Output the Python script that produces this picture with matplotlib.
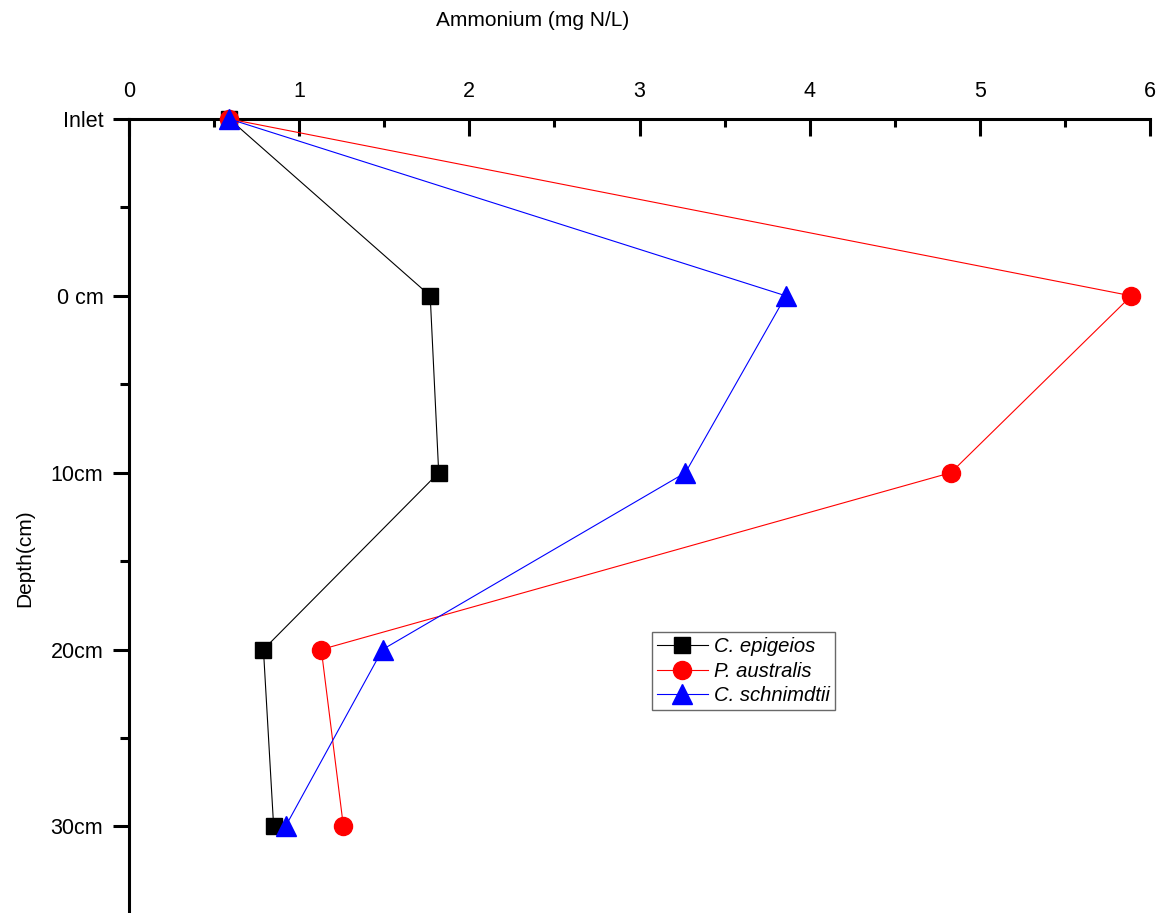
import matplotlib
matplotlib.use("Agg")
import matplotlib.pyplot as plt
from matplotlib.ticker import MultipleLocator

plt.rcParams['font.family'] = ['Liberation Sans', 'DejaVu Sans']

depths = ["Inlet", "0 cm", "10cm", "20cm", "30cm"]
c_epigeios = [0.59, 1.77, 1.82, 0.79, 0.85]
p_australis = [0.59, 5.89, 4.83, 1.13, 1.26]
c_schnimdtii = [0.59, 3.86, 3.27, 1.49, 0.92]

W, H = 1167, 913
fig = plt.figure(figsize=(W / 100, H / 100), dpi=100)
ax = fig.add_axes([129 / W, 0, (1150 - 129) / W, (H - 119) / H])

ypos = list(range(len(depths)))
ax.plot(c_epigeios, ypos, color='black', lw=0.8, marker='s', ms=11.5,
        mfc='black', mec='black', label='C. epigeios', clip_on=False, zorder=3)
ax.plot(p_australis, ypos, color='red', lw=0.8, marker='o', ms=13,
        mfc='red', mec='red', label='P. australis', clip_on=False, zorder=3)
ax.plot(c_schnimdtii, ypos, color='blue', lw=0.8, marker='^', ms=14,
        mfc='blue', mec='blue', label='C. schnimdtii', clip_on=False, zorder=4)

ax.set_xlim(0, 6)
ax.set_ylim(4.49, 0)

ax.xaxis.tick_top()
ax.xaxis.set_major_locator(MultipleLocator(1))
ax.xaxis.set_minor_locator(MultipleLocator(0.5))
ax.set_yticks(ypos)
ax.set_yticklabels(depths)
ax.yaxis.set_minor_locator(MultipleLocator(0.5))

ax.spines['right'].set_visible(False)
ax.spines['bottom'].set_visible(False)
for s in ('left', 'top'):
    ax.spines[s].set_linewidth(2.2)

ax.tick_params(axis='x', which='major', direction='in', length=12, width=2.2,
               labelsize=15.5, pad=12, top=True, bottom=False)
ax.tick_params(axis='x', which='minor', direction='in', length=6, width=2.2,
               top=True, bottom=False)
ax.tick_params(axis='y', which='major', direction='out', length=11.5, width=2.2,
               labelsize=15.5, pad=7)
ax.tick_params(axis='y', which='minor', direction='out', length=6.5, width=2.2)

fig.text(533 / W, 1 - 20 / H, "Ammonium (mg N/L)", ha='center', va='center',
         fontsize=15)
fig.text(25 / W, 1 - 558 / H, "Depth(cm)", ha='center', va='center',
         rotation=90, fontsize=15)

leg = ax.legend(loc='upper left', bbox_to_anchor=(652 / W, 1 - 632 / H),
                bbox_transform=fig.transFigure, frameon=True, fancybox=False,
                prop={'style': 'italic', 'size': 14.6}, handlelength=2.5,
                handletextpad=0.3, borderpad=0.25, labelspacing=0.28,
                borderaxespad=0, markerscale=1.0)
leg.get_frame().set_edgecolor('#444444')
leg.get_frame().set_linewidth(1.0)

fig.savefig("out.png", dpi=100, facecolor='white')
